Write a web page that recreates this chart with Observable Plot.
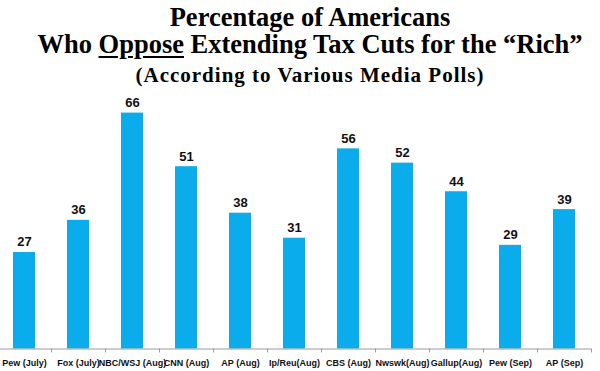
<!DOCTYPE html>
<html>
<head>
<meta charset="utf-8">
<script src="https://cdn.jsdelivr.net/npm/d3@7"></script>
<script src="https://cdn.jsdelivr.net/npm/@observablehq/plot@0.6"></script>
<style>
  html, body { margin: 0; padding: 0; background: #fff; }
  #wrap { position: relative; width: 600px; height: 371px; overflow: hidden; }
  .t { position: absolute; left: 10px; width: 600px; text-align: center; white-space: nowrap;
       font-family: "Liberation Serif", "Times New Roman", serif; font-weight: bold; color: #000; line-height: 1; }
  #t1 { top: 4.3px; font-size: 26.5px; }
  #t2 { top: 31.2px; font-size: 26.5px; }
  #t3 { top: 64.6px; font-size: 21px; letter-spacing: 1px; }
  #t2 u { text-decoration-thickness: 2px; text-underline-offset: 3px; }
</style>
</head>
<body>
<div id="wrap">
  <div id="chart"></div>
  <div class="t" id="t1">Percentage of Americans</div>
  <div class="t" id="t2">Who <u>Oppose</u> Extending Tax Cuts for the “Rich”</div>
  <div class="t" id="t3">(According to Various Media Polls)</div>
</div>
<script>
const categories = ["Pew (July)", "Fox (July)", "NBC/WSJ (Aug)", "CNN (Aug)", "AP (Aug)", "Ip/Reu(Aug)",
                    "CBS (Aug)", "Nwswk(Aug)", "Gallup(Aug)", "Pew (Sep)", "AP (Sep)"];
const values = [27, 36, 66, 51, 38, 31, 56, 52, 44, 29, 39];

const data = categories.map((c, i) => ({category: c, value: values[i]}));
const barColor = "#0aaceb";
const axisColor = "#9a9a9a";
const sans = "'Liberation Sans', Arial, sans-serif";

const chart = Plot.plot({
  width: 600,
  height: 371,
  marginLeft: 0,
  marginRight: 9,
  marginTop: 112.6,
  marginBottom: 22.5,
  style: {background: "transparent", fontFamily: sans},
  x: {domain: categories, range: [-3, 591], paddingInner: 0.6, paddingOuter: 0.3, axis: null},
  y: {domain: [0, 66], axis: null},
  marks: [
    Plot.barY(data, {x: "category", y: "value", fill: barColor}),
    Plot.ruleY([0], {stroke: axisColor, strokeWidth: 1}),
    Plot.ruleX(categories, {x: d => d, y1: 0, y2: -1.1, dx: 27, stroke: axisColor}),
    Plot.text(data, {x: "category", y: "value", text: d => String(d.value), dy: -6, lineAnchor: "bottom",
      fontSize: 13, fontWeight: "bold", fill: "#111"}),
    Plot.text(categories, {x: d => d, y: 0, text: d => d, dy: 16.5, lineAnchor: "bottom",
      fontSize: 9, fontWeight: "bold", fill: "#111"})
  ]
});
document.getElementById("chart").appendChild(chart);
</script>
</body>
</html>
